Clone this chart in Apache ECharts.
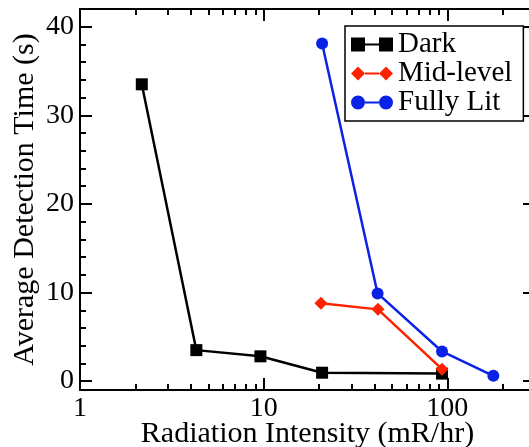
<!DOCTYPE html>
<html>
<head>
<meta charset="utf-8">
<script src="https://cdn.jsdelivr.net/npm/echarts@6/dist/echarts.min.js"></script>
<style>
  html, body { margin: 0; padding: 0; background: #fff; }
  #chart { width: 529px; height: 447px; }
</style>
</head>
<body>
<div id="chart"></div>
<script>
// values
const darkX = [2.17, 4.3, 9.6, 20.8, 93.5]
const darkY = [33.5, 3.5, 2.8, 0.95, 0.85]
const midX = [20.5, 41.9, 93.5]
const midY = [8.8, 8.1, 1.35]
const litX = [20.8, 41.7, 93.5, 178]
const litY = [38.1, 9.9, 3.35, 0.6]

const xMajorTicks = [1, 10, 100]
const xMinorTicks = [2, 3, 4, 5, 6, 7, 8, 9, 20, 30, 40, 50, 60, 70, 80, 90, 200]
const yMajorTicks = [0, 10, 20, 30, 40]
const yMinorTicks = [2, 4, 6, 8, 12, 14, 16, 18, 22, 24, 26, 28, 32, 34, 36, 38]

const font = '"Liberation Serif", "Times New Roman", serif'
const zip = (xs, ys) => xs.map((x, i) => [x, ys[i]])

const chart = echarts.init(document.getElementById('chart'), null, { renderer: 'canvas' })

const axLine = { show: true, onZero: false, lineStyle: { color: '#000', width: 2 } }
const noLine = { show: false, onZero: false }

const xBase = { type: 'log', logBase: 10, min: 1, max: 300, splitLine: { show: false } }
const yBase = { type: 'value', min: -1, max: 42, splitLine: { show: false } }

const tick = (vals, len) => ({
  show: true, inside: true, length: len, customValues: vals,
  lineStyle: { color: '#000', width: 2 }
})
const noLabel = { show: false }

const legendIcon = {
  Dark: 'path://M0,1h14v14h-14z M14,7h14v2h-14z M28,1h14v14h-14z',
  'Mid-level': 'path://M0,8L7,1L14,8L7,15Z M14,7h14v2h-14z M28,8L35,1L42,8L35,15Z',
  'Fully Lit': 'path://M0,8a7,7 0 1,0 14,0a7,7 0 1,0 -14,0z M14,7h14v2h-14z M28,8a7,7 0 1,0 14,0a7,7 0 1,0 -14,0z'
}

const option = {
  animation: false,
  backgroundColor: '#fff',
  // right edge of the frame sits just past the canvas, as in the original
  grid: { left: 80, right: -6, top: 9, bottom: 57, containLabel: false, outerBoundsMode: 'none' },
  legend: {
    orient: 'vertical', left: 345, top: 26,
    backgroundColor: '#fff', borderColor: '#000', borderWidth: 1.5,
    padding: [4, 11, 4, 6], itemGap: 0, itemWidth: 42, itemHeight: 16,
    textStyle: { fontFamily: font, fontSize: 29, color: '#000', lineHeight: 28 },
    data: Object.keys(legendIcon).map(n => ({ name: n, icon: legendIcon[n] }))
  },
  xAxis: [
    {
      ...xBase, position: 'bottom', axisLine: axLine,
      axisTick: tick(xMajorTicks, 12),
      axisLabel: { customValues: xMajorTicks, margin: 5, fontFamily: font, fontSize: 28, color: '#000' },
      name: 'Radiation Intensity (mR/hr)', nameLocation: 'middle', nameGap: 29, nameMoveOverlap: false,
      nameTextStyle: { fontFamily: font, fontSize: 30, color: '#000' }
    },
    { ...xBase, position: 'bottom', axisLine: noLine, axisTick: tick(xMinorTicks, 6), axisLabel: noLabel },
    { ...xBase, position: 'top', axisLine: axLine, axisTick: tick(xMajorTicks, 12), axisLabel: noLabel },
    { ...xBase, position: 'top', axisLine: noLine, axisTick: tick(xMinorTicks, 6), axisLabel: noLabel }
  ],
  yAxis: [
    {
      ...yBase, position: 'left', axisLine: axLine,
      axisTick: tick(yMajorTicks, 12),
      axisLabel: { customValues: yMajorTicks, margin: 6, fontFamily: font, fontSize: 28, color: '#000' },
      name: 'Average Detection Time (s)', nameLocation: 'middle', nameGap: 40, nameMoveOverlap: false,
      nameTextStyle: { fontFamily: font, fontSize: 30, color: '#000' }
    },
    { ...yBase, position: 'left', axisLine: noLine, axisTick: tick(yMinorTicks, 6), axisLabel: noLabel },
    { ...yBase, position: 'right', axisLine: noLine, axisTick: tick(yMajorTicks, 12), axisLabel: noLabel },
    { ...yBase, position: 'right', axisLine: noLine, axisTick: tick(yMinorTicks, 6), axisLabel: noLabel }
  ],
  series: [
    {
      name: 'Dark', type: 'line', data: zip(darkX, darkY),
      symbol: 'rect', symbolSize: 12,
      lineStyle: { color: '#000', width: 2.5 }, itemStyle: { color: '#000' }
    },
    {
      name: 'Mid-level', type: 'line', data: zip(midX, midY),
      symbol: 'diamond', symbolSize: 13,
      lineStyle: { color: '#ff2200', width: 2.5 }, itemStyle: { color: '#ff2200' }
    },
    {
      name: 'Fully Lit', type: 'line', data: zip(litX, litY),
      symbol: 'circle', symbolSize: 12,
      lineStyle: { color: '#0a22e6', width: 2.5 }, itemStyle: { color: '#0a22e6' }
    }
  ]
}

chart.setOption(option)
</script>
</body>
</html>
